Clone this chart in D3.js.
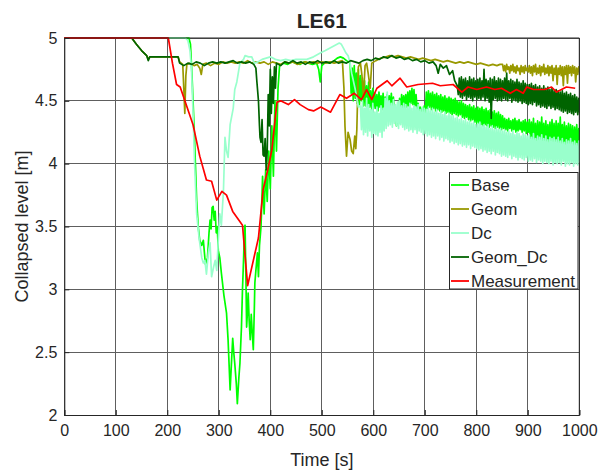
<!DOCTYPE html>
<html><head><meta charset="utf-8">
<script src="https://cdn.jsdelivr.net/npm/d3@7"></script>
<style>body{margin:0;background:#fff}svg text{font-family:"Liberation Sans",Arial,Helvetica,sans-serif;fill:#262626}</style>
</head><body><svg id="c" width="610" height="474"></svg>
<script>
const titleText = "LE61";
const xLabel = "Time [s]";
const yLabel = "Collapsed level [m]";
const xTicks = [0,100,200,300,400,500,600,700,800,900,1000];
const yTicks = [2,2.5,3,3.5,4,4.5,5];
const seriesNames = ["Base","Geom","Dc","Geom_Dc","Measurement"];
const seriesColors = ["#00ff00","#999900","#99ffcc","#006400","#ff0000"];
const noiseStep = 2;

// Base
const basePts = [[0,5],[242,5],[245,4.95],[248,4.7],[252,4.3],[257,3.71],[260,3.5],[263,3.39],[267,3.35],[270,3.39],[274,3.2],[278,3.25],[281,3.45],[283,3.55],[285,3.48],[287,3.65],[289,3.66],[291,3.55],[293,3.62],[295,3.45],[297,3.5],[299,3.31],[302,3.25],[305,3.13],[310,2.95],[315,2.81],[318,2.6],[320,2.40],[322,2.20],[325,2.45],[327,2.61],[329,2.50],[331,2.41],[334,2.25],[336,2.09],[339,2.30],[341,2.41],[344,2.70],[346,3.0],[348,3.23],[350,3.50],[351,3.51],[353,3.0],[354,2.70],[356,2.85],[357,2.97],[359,2.75],[361,2.60],[363,2.80],[365,2.65],[367,2.52],[369,2.85],[370,3.05],[372,3.15],[375,3.29],[377,3.10],[379,3.35],[382,3.50],[385,3.9],[388,3.6],[391,3.95],[394,3.7],[397,4.1],[400,3.8],[403,4.3],[406,3.9],[409,4.5],[412,4.1],[415,4.6],[418,4.78],[426,4.80],[434,4.79],[442,4.81],[450,4.80],[458,4.79],[466,4.81],[474,4.80],[482,4.79],[490,4.80],[494,4.75],[497,4.65],[500,4.78],[508,4.81],[516,4.80],[524,4.82],[530,4.84],[536,4.85],[542,4.84],[548,4.82]];
const baseNoiseStart = 555;
const baseNoise = [4.80,4.56,4.76,4.50,4.78,4.52,4.72,4.48,4.75,4.47,4.70,4.50,4.68,4.46,
4.66,4.46,4.62,4.44,4.65,4.45,4.58,4.43,4.60,4.44,
4.56,4.44,4.55,4.42,4.57,4.45,4.54,4.43,4.56,4.44,4.53,4.42,4.55,4.44,4.54,4.43,4.56,4.42,4.53,4.41,
4.40,4.30,4.38,4.32,4.52,4.41,4.55,4.44,4.54,4.45,
4.55,4.45,4.57,4.46,4.58,4.48,4.60,4.47,4.59,4.46,4.55,4.44,4.48,4.38,4.45,4.37,4.44,4.38,4.46,4.40,
4.57,4.44,4.58,4.45,4.56,4.43,4.57,4.44,4.55,4.42,4.56,4.43,4.54,4.42,4.55,4.41,4.53,4.42,4.54,4.40,4.52,4.41,4.53,4.40,4.52,4.39,
4.51,4.40,4.52,4.39,4.50,4.38,4.49,4.39,4.50,4.37,4.48,4.36,4.47,4.37,4.46,4.35,4.47,4.34,4.45,4.35,4.46,4.33,4.44,4.32,
4.45,4.32,4.44,4.31,4.45,4.30,4.43,4.31,4.44,4.30,4.42,4.29,4.43,4.30,4.41,4.29,4.42,4.28,4.40,4.29,4.41,4.28,4.39,4.27,4.38,4.28,
4.36,4.27,4.35,4.26,4.36,4.28,4.34,4.26,4.35,4.27,4.36,4.25,4.34,4.26,4.35,4.27,4.33,4.25,4.34,4.26,4.35,4.24,4.33,4.25,
4.35,4.20,4.33,4.19,4.36,4.18,4.32,4.17,4.34,4.19,4.33,4.18,4.37,4.17,4.32,4.16,4.34,4.18,4.31,4.17,4.33,4.16,4.35,4.17,4.32,4.16,
4.34,4.16,4.32,4.15,4.37,4.16,4.31,4.14,4.33,4.15,4.30,4.16,4.32,4.14,4.31,4.15,4.30,4.13,4.29,4.15,4.31,4.14,4.28,4.16];

// Geom
const geomPts = [[0,5],[131,5],[140,4.95],[150,4.9],[160,4.86],[163,4.83],[166,4.85],[221,4.85],[224,4.81],[230,4.79],[232,4.60],[234,4.40],[236,4.70],[238,4.79],[245,4.80],[252,4.78],[258,4.79],[263,4.76],[266,4.71],[269,4.79],[276,4.80],[284,4.78],[292,4.80],[300,4.79],[308,4.81],[316,4.80],[324,4.81],[332,4.80],[340,4.81],[348,4.80],[356,4.82],[364,4.80],[372,4.81],[380,4.80],[388,4.81],[396,4.79],[404,4.81],[412,4.80],[420,4.79],[428,4.81],[436,4.80],[444,4.81],[452,4.79],[460,4.80],[468,4.81],[476,4.80],[484,4.81],[492,4.80],[500,4.81],[508,4.80],[516,4.81],[524,4.80],[532,4.81],[540,4.82],[543,4.6],[545,4.3],[548,4.06],[551,4.25],[555,4.19],[558,4.10],[561,4.08],[564,4.22],[566,4.12],[568,4.27],[571,4.77],[575,4.80],[578,4.70],[581,4.53],[584,4.78],[587,4.80],[590,4.72],[594,4.60],[597,4.80],[605,4.82],[615,4.84],[625,4.85],[632,4.86],[640,4.85],[648,4.86],[656,4.85],[664,4.84],[672,4.85],[680,4.84],[688,4.83],[696,4.84],[704,4.83],[712,4.82],[720,4.83],[728,4.82],[736,4.81],[744,4.82],[752,4.81],[760,4.80],[768,4.81],[776,4.80],[784,4.81],[792,4.80],[800,4.79],[808,4.80],[816,4.79],[824,4.78],[832,4.79],[840,4.78],[846,4.79]];
const geomNoiseStart = 851;
const geomNoise = [4.79,4.74,4.78,4.73,4.79,4.75,4.77,4.72,4.78,4.74,4.79,4.73,4.77,4.72,4.78,4.74,4.76,4.71,4.78,4.73,4.77,4.72,4.78,4.74,4.76,4.73,
4.78,4.72,4.77,4.70,4.78,4.73,4.79,4.71,4.76,4.72,4.78,4.70,4.77,4.73,4.79,4.71,4.76,4.72,4.78,4.70,4.77,4.72,4.78,4.66,4.76,4.71,
4.78,4.63,4.76,4.71,4.78,4.70,4.77,4.62,4.77,4.71,4.78,4.64,4.78,4.72,4.77,4.70,4.78,4.72,4.77,4.65,4.76,4.71,4.77,4.73];

// Dc
const dcPts = [[0,5],[235,5],[240,4.98],[244,4.9],[247,4.75],[250,4.4],[253,4.0],[257,3.6],[262,3.4],[267,3.25],[270,3.21],[273,3.23],[276,3.12],[280,3.3],[283,3.37],[286,3.10],[290,3.18],[293,3.23],[296,3.15],[299,3.39],[302,3.60],[305,3.51],[309,3.78],[312,4.21],[315,4.10],[318,4.05],[322,4.31],[328,4.44],[331,4.59],[335,4.65],[341,4.80],[348,4.83],[351,4.86],[358,4.85],[364,4.85],[369,4.80],[376,4.81],[384,4.83],[392,4.84],[400,4.85],[410,4.83],[420,4.82],[430,4.83],[440,4.82],[450,4.83],[460,4.83],[471,4.83],[484,4.85],[497,4.88],[507,4.90],[516,4.92],[525,4.94],[534,4.96],[538,4.95],[542,4.92],[547,4.88],[551,4.86],[555,4.80],[558,4.72],[565,4.59],[571,4.45]];
const dcNoiseStart = 575;
const dcNoise = [4.46,4.27,4.50,4.23,4.44,4.25,4.52,4.22,4.47,4.26,4.43,4.21,4.48,4.24,
4.41,4.23,4.45,4.22,4.40,4.25,4.46,4.21,4.44,4.26,4.52,4.28,4.57,4.30,
4.50,4.31,4.48,4.29,4.51,4.32,4.47,4.30,4.49,4.28,4.50,4.31,4.46,4.29,4.48,4.27,
4.47,4.28,4.45,4.26,4.48,4.27,4.44,4.25,4.46,4.27,4.45,4.24,4.47,4.26,4.43,4.25,4.45,4.23,4.44,4.24,
4.43,4.22,4.45,4.23,4.42,4.21,4.44,4.22,4.41,4.20,4.43,4.22,4.40,4.19,4.42,4.21,4.39,4.18,4.41,4.20,4.38,4.19,4.40,4.17,4.38,4.18,
4.38,4.16,4.36,4.17,4.37,4.15,4.35,4.16,4.36,4.14,4.34,4.15,4.35,4.13,4.33,4.15,4.34,4.12,4.32,4.14,4.33,4.13,4.31,4.12,
4.32,4.11,4.33,4.12,4.30,4.10,4.31,4.11,4.29,4.09,4.31,4.10,4.28,4.08,4.30,4.10,4.27,4.07,4.29,4.09,4.27,4.08,4.28,4.06,4.26,4.07,
4.27,4.06,4.25,4.05,4.26,4.07,4.24,4.04,4.26,4.06,4.23,4.05,4.25,4.03,4.24,4.05,4.22,4.04,4.24,4.03,4.23,4.05,4.22,4.02,
4.23,4.03,4.21,4.02,4.24,4.04,4.20,4.01,4.22,4.03,4.21,4.02,4.23,4.00,4.20,4.02,4.22,4.01,4.19,4.00,4.21,4.02,4.20,3.99,4.21,4.01,
4.19,4.00,4.21,4.01,4.18,3.99,4.20,4.02,4.17,3.98,4.19,4.00,4.18,3.99,4.20,4.01,4.17,3.98,4.18,4.00,4.16,3.99,4.18,4.01];

// Geom_Dc
const geomDcPts = [[0,5],[131,5],[140,4.95],[150,4.9],[160,4.86],[163,4.82],[166,4.85],[221,4.85],[224,4.80],[232,4.78],[240,4.80],[248,4.79],[256,4.81],[264,4.80],[272,4.78],[280,4.80],[288,4.81],[296,4.80],[304,4.81],[312,4.80],[320,4.81],[328,4.82],[336,4.80],[344,4.81],[352,4.80],[360,4.81],[368,4.79],[372,4.76],[374,4.65],[376,4.55],[377,4.50],[379,4.30],[380,4.21],[382,4.17],[384,4.35],[386,4.07],[388,4.06],[390,4.20],[392,3.95],[394,4.10],[396,4.55],[398,4.30],[400,4.75],[402,4.40],[404,4.69],[406,4.48],[408,4.77],[410,4.60],[412,4.80],[420,4.78],[428,4.81],[436,4.80],[444,4.82],[452,4.80],[460,4.81],[468,4.79],[476,4.81],[484,4.80],[492,4.82],[500,4.80],[508,4.81],[516,4.80],[524,4.82],[532,4.80],[540,4.81],[548,4.80],[556,4.82],[564,4.81],[572,4.80],[580,4.82],[588,4.83],[596,4.82],[604,4.84],[612,4.83],[620,4.85],[628,4.84],[636,4.86],[644,4.84],[652,4.85],[660,4.83],[668,4.84],[676,4.82],[684,4.83],[692,4.81],[700,4.82],[708,4.80],[716,4.81],[722,4.78],[726,4.72],[730,4.79],[736,4.76],[742,4.78],[748,4.71],[754,4.74],[758,4.66]];
const geomDcNoiseStart = 763;
const geomDcNoise = [4.62,4.55,4.68,4.53,4.69,4.52,4.67,4.54,4.68,4.51,4.66,4.53,4.69,4.52,4.67,4.50,4.68,4.53,4.66,4.51,
4.67,4.52,4.68,4.51,4.66,4.53,4.75,4.50,4.67,4.52,4.66,4.49,4.68,4.36,4.67,4.51,4.69,4.52,4.66,4.50,4.68,4.51,4.67,4.50,4.66,4.52,
4.68,4.51,4.72,4.50,4.66,4.52,4.67,4.49,4.66,4.51,4.65,4.50,4.67,4.49,4.65,4.50,4.64,4.48,4.66,4.49,4.64,4.48,4.63,4.47,
4.63,4.48,4.64,4.47,4.62,4.49,4.63,4.46,4.61,4.47,4.62,4.45,4.60,4.46,4.62,4.45,4.60,4.44,4.61,4.46,4.59,4.44,4.60,4.45,4.58,4.43,
4.59,4.44,4.58,4.43,4.57,4.42,4.58,4.41,4.56,4.42,4.57,4.40,4.55,4.41,4.56,4.40,4.54,4.39,4.55,4.41,4.53,4.39,4.52,4.40];

// Measurement
const measPts = [[0,5],[202,5],[210,4.8],[218,4.63],[225,4.61],[250,4.31],[263,4.06],[276,3.87],[286,3.86],[296,3.71],[306,3.78],[315,3.75],[327,3.62],[346,3.51],[356,3.03],[377,3.41],[386,3.79],[395,3.95],[403,4.11],[413,4.49],[420,4.50],[435,4.47],[447,4.51],[458,4.47],[474,4.43],[484,4.42],[498,4.45],[517,4.41],[535,4.55],[548,4.52],[563,4.56],[577,4.51],[587,4.59],[597,4.51],[607,4.60],[627,4.66],[636,4.62],[652,4.68],[665,4.61],[687,4.63],[715,4.64],[730,4.62],[755,4.63],[772,4.57],[784,4.61],[801,4.59],[820,4.61],[836,4.59],[849,4.60],[866,4.56],[878,4.59],[891,4.56],[898,4.61],[911,4.59],[933,4.59],[946,4.61],[956,4.57],[975,4.61],[992,4.60]];

function withNoise(pts, start, noise){
  return pts.concat(noise.map((v,i)=>[start+i*noiseStep, v]));
}
const seriesData = [
  withNoise(basePts, baseNoiseStart, baseNoise),
  withNoise(geomPts, geomNoiseStart, geomNoise),
  withNoise(dcPts, dcNoiseStart, dcNoise),
  withNoise(geomDcPts, geomDcNoiseStart, geomDcNoise),
  measPts
];

const svg = d3.select("#c");
const L = 64.3, R = 579.3, T = 38, B = 415;
const x = d3.scaleLinear().domain([0,1000]).range([L,R]);
const y = d3.scaleLinear().domain([2,5]).range([B,T]);

svg.append("rect").attr("x",0).attr("y",0).attr("width",610).attr("height",474).attr("fill","#fff");

// grid
const grid = svg.append("g").attr("stroke","#5e5e5e").attr("stroke-width",1).attr("shape-rendering","crispEdges");
xTicks.forEach(t=>grid.append("line").attr("x1",x(t)).attr("x2",x(t)).attr("y1",T).attr("y2",B));
yTicks.forEach(t=>grid.append("line").attr("x1",L).attr("x2",R).attr("y1",y(t)).attr("y2",y(t)));

svg.append("clipPath").attr("id","clip").append("rect").attr("x",L-1).attr("y",T-2).attr("width",R-L+1.5).attr("height",B-T+3);

const line = d3.line().x(d=>x(d[0])).y(d=>y(d[1]));
const lg = svg.append("g").attr("clip-path","url(#clip)");
seriesData.forEach((d,i)=>{
  lg.append("path").attr("d",line(d)).attr("fill","none")
    .attr("stroke",seriesColors[i]).attr("stroke-width",1.7).attr("stroke-linejoin","round");
});

// axes
const gx = svg.append("g").attr("transform",`translate(0,${B})`)
  .call(d3.axisBottom(x).tickValues(xTicks).tickSize(-5).tickPadding(10).tickFormat(d3.format("d")));
const gy = svg.append("g").attr("transform",`translate(${L},0)`)
  .call(d3.axisLeft(y).tickValues(yTicks).tickSize(-5).tickPadding(7).tickFormat(d=>String(d)));
[gx,gy].forEach(g=>{
  g.selectAll(".domain").attr("stroke","#262626");
  g.selectAll(".tick line").attr("stroke","#262626");
  g.selectAll(".tick text").attr("font-size",16).attr("fill","#262626").style("font-family","'Liberation Sans',Arial,sans-serif");
});
// top and right box
svg.append("line").attr("x1",L).attr("x2",R).attr("y1",T).attr("y2",T).attr("stroke","#262626");
svg.append("line").attr("x1",R).attr("x2",R).attr("y1",T).attr("y2",B).attr("stroke","#262626");
// measurement drawn on top of the top box edge where it sits at 5 m
lg.append("path").attr("d",line(measPts.filter(p=>p[0]<=202))).attr("fill","none").attr("stroke","#ff0000").attr("stroke-width",1.7);

// title & labels
svg.append("text").attr("x",(L+R)/2).attr("y",28).attr("text-anchor","middle").attr("font-size",21).attr("font-weight","bold").text(titleText);
svg.append("text").attr("x",(L+R)/2).attr("y",466).attr("text-anchor","middle").attr("font-size",18).text(xLabel);
svg.append("text").attr("transform",`translate(28,${(T+B)/2}) rotate(-90)`).attr("text-anchor","middle").attr("font-size",18).text(yLabel);

// legend
const lgX = 449.5, lgY = 172.5, lgW = 128.5, lgH = 116.5;
const leg = svg.append("g");
leg.append("rect").attr("x",lgX).attr("y",lgY).attr("width",lgW).attr("height",lgH).attr("fill","#fff").attr("stroke","#262626").attr("stroke-width",1);
seriesNames.forEach((n,i)=>{
  const cy = 185 + i*24;
  leg.append("line").attr("x1",451).attr("x2",469).attr("y1",cy).attr("y2",cy).attr("stroke",seriesColors[i]).attr("stroke-width",1.8);
  leg.append("text").attr("x",471).attr("y",cy+6).attr("font-size",17).text(n);
});
</script></body></html>
